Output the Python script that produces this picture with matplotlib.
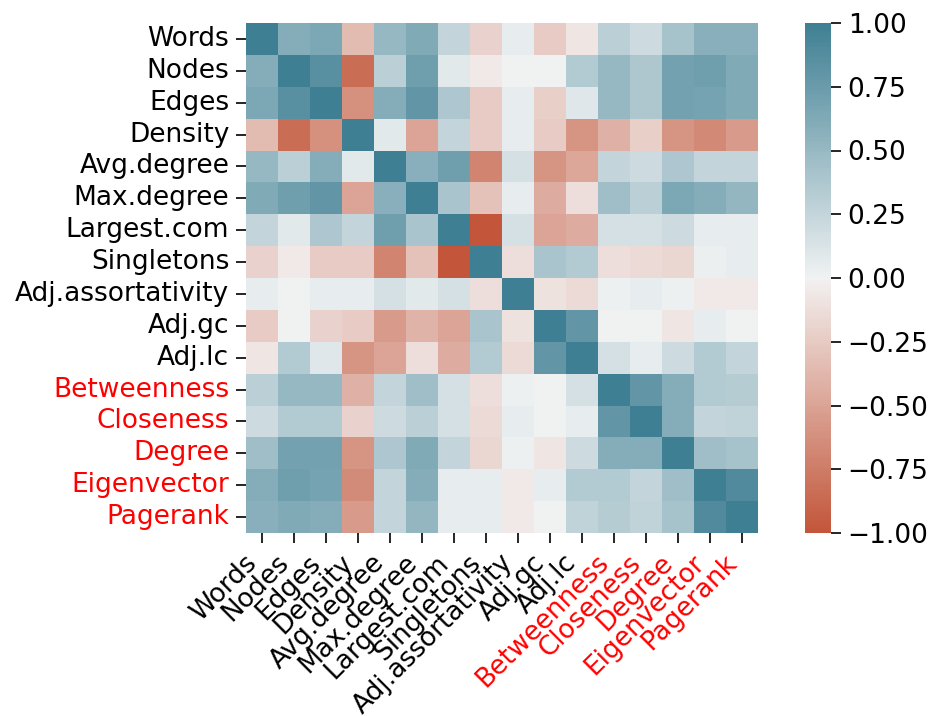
import numpy as np
import pandas as pd
import matplotlib
matplotlib.use("Agg")
import matplotlib.pyplot as plt
import seaborn as sns

labels = ["Words", "Nodes", "Edges", "Density", "Avg.degree", "Max.degree",
          "Largest.com", "Singletons", "Adj.assortativity", "Adj.gc", "Adj.lc",
          "Betweenness", "Closeness", "Degree", "Eigenvector", "Pagerank"]
red_labels = ["Betweenness", "Closeness", "Degree", "Eigenvector", "Pagerank"]

# correlation values (row by row)
words       = [1.00, 0.60, 0.65, -0.35, 0.50, 0.62, 0.25, -0.20, 0.05, -0.25, -0.08, 0.30, 0.20, 0.42, 0.58, 0.58]
nodes       = [0.60, 1.00, 0.85, -0.85, 0.30, 0.72, 0.08, -0.05, 0.00, 0.00, 0.35, 0.50, 0.37, 0.70, 0.72, 0.62]
edges       = [0.65, 0.85, 1.00, -0.62, 0.60, 0.80, 0.38, -0.25, 0.05, -0.22, 0.10, 0.50, 0.37, 0.70, 0.68, 0.62]
density     = [-0.35, -0.85, -0.62, 1.00, 0.08, -0.50, 0.25, -0.25, 0.05, -0.25, -0.60, -0.42, -0.22, -0.60, -0.67, -0.55]
avg_degree  = [0.50, 0.30, 0.60, 0.08, 1.00, 0.58, 0.72, -0.70, 0.15, -0.60, -0.48, 0.25, 0.20, 0.38, 0.25, 0.25]
max_degree  = [0.62, 0.72, 0.80, -0.50, 0.58, 1.00, 0.40, -0.30, 0.05, -0.45, -0.12, 0.45, 0.30, 0.65, 0.60, 0.52]
largest_com = [0.25, 0.08, 0.38, 0.25, 0.72, 0.40, 1.00, -1.00, 0.15, -0.50, -0.45, 0.15, 0.15, 0.20, 0.05, 0.05]
singletons  = [-0.20, -0.05, -0.25, -0.25, -0.70, -0.30, -1.00, 1.00, -0.12, 0.40, 0.35, -0.12, -0.15, -0.17, 0.03, 0.05]
adj_assort  = [0.05, 0.00, 0.05, 0.05, 0.15, 0.08, 0.15, -0.12, 1.00, -0.10, -0.15, 0.02, 0.05, 0.02, -0.05, -0.05]
adj_gc      = [-0.25, 0.00, -0.20, -0.25, -0.55, -0.40, -0.50, 0.40, -0.10, 1.00, 0.80, 0.00, 0.00, -0.08, 0.05, 0.00]
adj_lc      = [-0.08, 0.35, 0.10, -0.60, -0.50, -0.12, -0.45, 0.35, -0.15, 0.80, 1.00, 0.15, 0.05, 0.20, 0.35, 0.25]
betweenness = [0.30, 0.50, 0.50, -0.42, 0.25, 0.45, 0.15, -0.12, 0.02, 0.00, 0.15, 1.00, 0.80, 0.60, 0.35, 0.33]
closeness   = [0.20, 0.35, 0.35, -0.20, 0.20, 0.30, 0.15, -0.15, 0.05, 0.00, 0.05, 0.80, 1.00, 0.60, 0.25, 0.27]
degree      = [0.45, 0.70, 0.70, -0.60, 0.38, 0.62, 0.25, -0.17, 0.02, -0.08, 0.20, 0.60, 0.60, 1.00, 0.45, 0.42]
eigenvector = [0.60, 0.72, 0.68, -0.65, 0.25, 0.60, 0.05, 0.05, -0.05, 0.05, 0.35, 0.35, 0.25, 0.45, 1.00, 0.90]
pagerank    = [0.58, 0.62, 0.60, -0.55, 0.25, 0.52, 0.05, 0.05, -0.05, 0.00, 0.27, 0.33, 0.27, 0.42, 0.90, 1.00]

rows = [words, nodes, edges, density, avg_degree, max_degree, largest_com,
        singletons, adj_assort, adj_gc, adj_lc, betweenness, closeness,
        degree, eigenvector, pagerank]
corr = pd.DataFrame(rows, index=labels, columns=labels)

fig = plt.figure(figsize=(9.36, 7.16), dpi=100)
ax = fig.add_axes([246/936, 1-533/716, 512/936, 510/716])
cax = fig.add_axes([805/936, 1-533/716, 26/936, 510/716])

cmap = sns.diverging_palette(20, 220, as_cmap=True)
sns.heatmap(corr, cmap=cmap, vmin=-1, vmax=1, center=0, ax=ax, cbar_ax=cax)

fs = 19
ax.set_xticklabels(labels, rotation=45, ha="right", fontsize=fs)
ax.set_yticklabels(labels, rotation=0, fontsize=fs)
ax.tick_params(length=7, width=1.2, pad=5)
for t in ax.get_xticklabels() + ax.get_yticklabels():
    if t.get_text() in red_labels:
        t.set_color("red")

cax.tick_params(labelsize=fs, length=7, width=1.2, pad=5)
cax.set_yticks([-1, -0.75, -0.5, -0.25, 0, 0.25, 0.5, 0.75, 1])
cax.set_yticklabels(["\u22121.00", "\u22120.75", "\u22120.50", "\u22120.25", "0.00",
                     "0.25", "0.50", "0.75", "1.00"])

fig.savefig("out.png", dpi=100)
